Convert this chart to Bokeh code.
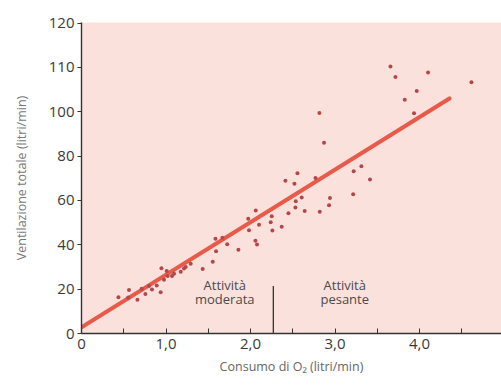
from bokeh.plotting import figure
from bokeh.models import Range1d, FixedTicker, ColumnDataSource
from bokeh.core.properties import value
from bokeh.embed import file_html
from bokeh.resources import INLINE

# Oxygen consumption (litri/min) and total ventilation (axis units)
o2 = [3.656, 3.715, 4.101, 4.614, 3.967, 3.825, 3.935, 2.815, 2.870, 2.555,
      2.413, 2.520, 3.221, 3.312, 3.414, 3.215, 2.940, 2.606, 2.769, 2.535,
      2.531, 2.449, 2.641, 2.819, 2.929, 2.101, 2.251, 2.239, 2.369, 2.259,
      2.058, 2.077, 2.062, 1.973, 1.982, 1.857, 1.724, 1.592, 1.585, 1.667,
      1.553, 1.434, 1.292, 1.213, 1.174, 1.095, 1.071, 1.008, 0.946, 1.020,
      0.976, 0.937, 0.890, 0.834, 0.799, 0.756, 0.712, 0.662, 0.562, 0.553,
      0.437, 1.233]
vent = [120.5, 115.7, 117.8, 113.3, 109.4, 105.4, 99.4, 99.5, 86.0, 72.3,
        68.9, 67.6, 73.2, 75.5, 69.5, 62.8, 61.1, 61.4, 70.1, 59.7,
        56.8, 54.3, 55.3, 54.9, 57.9, 49.1, 52.9, 50.2, 48.2, 46.5,
        41.8, 40.1, 55.5, 51.8, 46.6, 37.8, 40.3, 37.1, 42.8, 43.2,
        32.4, 29.1, 31.5, 29.3, 27.9, 27.0, 25.9, 28.2, 29.4, 25.9,
        24.3, 18.6, 21.7, 19.9, 21.4, 17.8, 20.2, 15.2, 19.6, 16.2,
        16.4, 30.0]

fit_x = [0.0, 4.354]
fit_y = [2.8, 106.0]

divider_x = [2.27, 2.27]
divider_y = [0.0, 21.4]

ann_x = [1.695, 1.695, 3.115, 3.115]
ann_y = [21.7, 15.4, 21.7, 15.4]
ann_text = ["Attività", "moderata", "Attività", "pesante"]

x_ticks = [0.0, 0.5, 1.0, 1.5, 2.0, 2.5, 3.0, 3.5, 4.0, 4.5]
x_tick_labels = ["0", "", "1,0", "", "2,0", "", "3,0", "", "4,0", ""]
y_ticks = [0, 20, 40, 60, 80, 100, 120, 140]
y_tick_labels = ["0", "20", "40", "60", "80", "100", "110", "120"]

FONT = "Open Sans"

p = figure(width=501, height=385, output_backend="svg", toolbar_location=None,
           x_range=Range1d(0, 4.97), y_range=Range1d(0, 140.3),
           min_border_left=81, min_border_right=0, min_border_top=22,
           min_border_bottom=52)
p.background_fill_color = "#fbe1dc"
p.border_fill_color = "white"
p.outline_line_color = None
p.grid.visible = False

p.line(fit_x, fit_y, line_color="#e85a4a", line_width=4.2, line_cap="round")
p.scatter(o2, vent, size=4.0, fill_color="#b5474b", line_color=None)
p.line(divider_x, divider_y, line_color="#333333", line_width=1.3)

src = ColumnDataSource(dict(x=ann_x, y=ann_y, t=ann_text))
p.text(x="x", y="y", text="t", source=src, text_align="center",
       text_baseline="middle", text_font=value(FONT), text_font_size="13px",
       text_color="#4a4a4a")

xa = p.xaxis[0]
xa.ticker = FixedTicker(ticks=x_ticks)
xa.major_label_overrides = {t: l for t, l in zip(x_ticks, x_tick_labels)}
xa.minor_tick_line_color = None
xa.major_tick_in = 5
xa.major_tick_out = 0
xa.axis_line_color = "#333333"
xa.axis_line_width = 1.4
xa.major_tick_line_color = "#333333"
xa.major_label_text_font = FONT
xa.major_label_text_font_size = "15px"
xa.major_label_text_color = "#3a3a3a"
xa.major_label_standoff = 5
xa.axis_label = "Consumo di O₂ (litri/min)"
xa.axis_label_text_font = FONT
xa.axis_label_text_font_style = "normal"
xa.axis_label_text_font_size = "12.5px"
xa.axis_label_text_color = "#666666"
xa.axis_label_standoff = 6

ya = p.yaxis[0]
ya.ticker = FixedTicker(ticks=y_ticks)
ya.major_label_overrides = {t: l for t, l in zip(y_ticks, y_tick_labels)}
ya.minor_tick_line_color = None
ya.major_tick_in = 0
ya.major_tick_out = 4
ya.axis_line_color = "#333333"
ya.axis_line_width = 1.4
ya.major_tick_line_color = "#333333"
ya.major_label_text_font = FONT
ya.major_label_text_font_size = "15px"
ya.major_label_text_color = "#3a3a3a"
ya.major_label_standoff = 3
ya.axis_label = "Ventilazione totale (litri/min)"
ya.axis_label_text_font = FONT
ya.axis_label_text_font_style = "normal"
ya.axis_label_text_font_size = "12.5px"
ya.axis_label_text_color = "#777777"
ya.axis_label_standoff = 16

open("out.html", "w").write(file_html(p, INLINE))
